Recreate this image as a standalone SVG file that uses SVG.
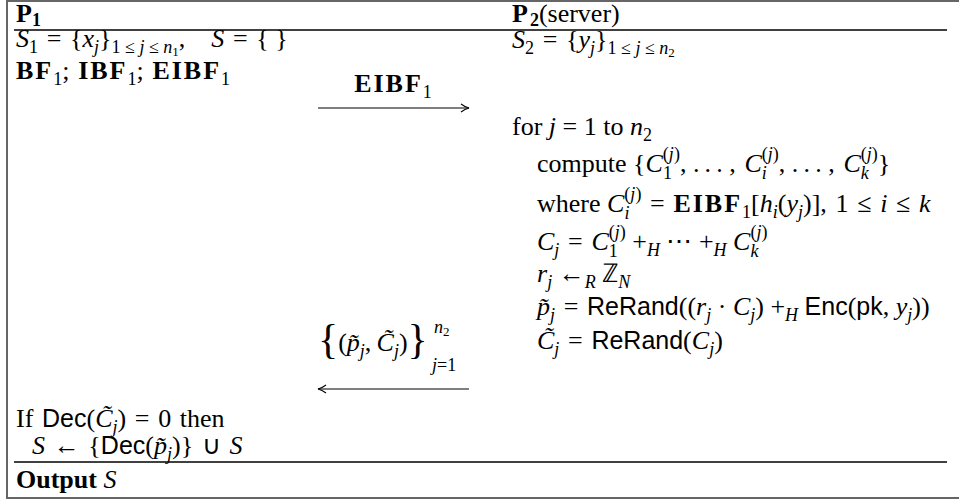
<svg xmlns="http://www.w3.org/2000/svg" width="959" height="500" viewBox="0 0 959 500">
<defs>
<style>
.t{font-family:"Liberation Serif","Times New Roman",serif;font-size:26px;fill:#000}
.i{font-style:italic}
.b{font-weight:bold}
.mb{font-weight:bold;letter-spacing:2px}
.s{font-size:18px;letter-spacing:0}
.ss{font-size:13px}
.sf{font-family:"Liberation Sans",Arial,sans-serif;font-size:25px}
.br{font-size:42px;font-weight:normal;font-style:normal}
.rule{stroke:#000;stroke-width:1.5}
.arr{stroke:#000;stroke-width:1.2;fill:none}
.frame{fill:none;stroke:#666;stroke-width:2}
</style>
<marker id="tip" viewBox="0 0 10 10" refX="9" refY="5" markerWidth="10" markerHeight="10" markerUnits="userSpaceOnUse" orient="auto-start-reverse">
<path d="M1,1 Q5,4 9,5 Q5,6 1,9" fill="none" stroke="#000" stroke-width="1.1"/>
</marker>
</defs>
<rect width="959" height="500" fill="#fff"/>
<rect class="frame" x="7" y="1" width="960" height="497"/>
<line class="rule" x1="14" y1="30" x2="947" y2="30"/>
<line class="rule" x1="14" y1="462" x2="947" y2="462"/>

<g id="p1">
<text class="t b" x="16" y="22">P<tspan class="s" dy="4">1</tspan></text>
<text class="t" x="16" y="47"><tspan class="i">S</tspan><tspan class="s" dy="6">1</tspan><tspan dy="-6">&#x2004;=&#x2004;{</tspan><tspan class="i">x</tspan><tspan class="s i" dy="6">j</tspan><tspan dy="-6">}</tspan><tspan class="s" dy="6">1&#x2005;≤&#x2005;<tspan class="i">j</tspan>&#x2005;≤&#x2005;<tspan class="i">n</tspan></tspan><tspan class="ss" dy="3">1</tspan><tspan dy="-9">,&#x2003;</tspan><tspan class="i">S</tspan>&#x2004;=&#x2004;{&#x2005;}</text>
<text class="t" x="16" y="79"><tspan class="mb">BF</tspan><tspan class="s" dy="6">1</tspan><tspan dy="-6">;&#x2004;</tspan><tspan class="mb">IBF</tspan><tspan class="s" dy="6">1</tspan><tspan dy="-6">;&#x2004;</tspan><tspan class="mb">EIBF</tspan><tspan class="s" dy="6">1</tspan></text>
<text class="t" x="16" y="427">If&#x2004;<tspan class="sf">Dec</tspan>(<tspan class="i">C̃</tspan><tspan class="s i" dy="6">j</tspan><tspan dy="-6">)&#x2004;=&#x2004;0&#x2004;then</tspan></text>
<text class="t" x="32" y="454"><tspan class="i">S</tspan>&#x2004;←&#x2004;{<tspan class="sf">Dec</tspan>(<tspan class="i">p̃</tspan><tspan class="s i" dy="6">j</tspan><tspan dy="-6">)}&#x2004;∪&#x2004;</tspan><tspan class="i">S</tspan></text>
<text class="t" x="16" y="488"><tspan class="b">Output</tspan> <tspan class="i">S</tspan></text>
</g>

<g id="p2">
<text class="t" x="512" y="22"><tspan class="mb">P</tspan><tspan class="s b" dy="4">2</tspan><tspan dy="-4">(server)</tspan></text>
<text class="t" x="512" y="48"><tspan class="i">S</tspan><tspan class="s" dy="6">2</tspan><tspan dy="-6">&#x2004;=&#x2004;{</tspan><tspan class="i">y</tspan><tspan class="s i" dy="6">j</tspan><tspan dy="-6">}</tspan><tspan class="s" dy="6">1&#x2005;≤&#x2005;<tspan class="i">j</tspan>&#x2005;≤&#x2005;<tspan class="i">n</tspan></tspan><tspan class="ss" dy="3">2</tspan></text>
<text class="t" x="512" y="135">for <tspan class="i">j</tspan> = 1 to <tspan class="i">n</tspan><tspan class="s" dy="6">2</tspan></text>
<text class="t" x="537" y="172">compute {<tspan class="i">C</tspan><tspan class="s" dy="-12">(<tspan class="i">j</tspan>)</tspan><tspan class="s" dx="-17" dy="19">1</tspan><tspan dx="8" dy="-7">,&#x2005;.&#x2009;.&#x2009;.&#x2005;,&#x2004;</tspan><tspan class="i">C</tspan><tspan class="s" dy="-12">(<tspan class="i">j</tspan>)</tspan><tspan class="s i" dx="-17" dy="19">i</tspan><tspan dx="12" dy="-7">,&#x2005;.&#x2009;.&#x2009;.&#x2005;,&#x2004;</tspan><tspan class="i">C</tspan><tspan class="s" dy="-12">(<tspan class="i">j</tspan>)</tspan><tspan class="s i" dx="-17" dy="19">k</tspan><tspan dx="9" dy="-7">}</tspan></text>
<text class="t" x="537" y="212">where <tspan class="i">C</tspan><tspan class="s" dy="-12">(<tspan class="i">j</tspan>)</tspan><tspan class="s i" dx="-17" dy="19">i</tspan><tspan dx="12" dy="-7">&#x2004;=&#x2004;</tspan><tspan class="mb">EIBF</tspan><tspan class="s" dy="6">1</tspan><tspan dy="-6">[</tspan><tspan class="i">h</tspan><tspan class="s i" dy="6">i</tspan><tspan dy="-6">(</tspan><tspan class="i">y</tspan><tspan class="s i" dy="6">j</tspan><tspan dy="-6">)],&#x2004;1&#x2004;≤&#x2004;</tspan><tspan class="i">i</tspan>&#x2004;≤&#x2004;<tspan class="i">k</tspan></text>
<text class="t" x="537" y="250"><tspan class="i">C</tspan><tspan class="s i" dy="6">j</tspan><tspan dy="-6">&#x2004;=&#x2004;</tspan><tspan class="i">C</tspan><tspan class="s" dy="-12">(<tspan class="i">j</tspan>)</tspan><tspan class="s" dx="-17" dy="19">1</tspan><tspan dx="8" dy="-7">&#x2005;+</tspan><tspan class="s i" dy="6">H</tspan><tspan dy="-6">&#x2005;⋯&#x2005;+</tspan><tspan class="s i" dy="6">H</tspan><tspan dy="-6">&#x2005;</tspan><tspan class="i">C</tspan><tspan class="s" dy="-12">(<tspan class="i">j</tspan>)</tspan><tspan class="s i" dx="-17" dy="19">k</tspan></text>
<text class="t" x="537" y="282"><tspan class="i">r</tspan><tspan class="s i" dy="6">j</tspan><tspan dy="-6"> ←</tspan><tspan class="s i" dy="6">R</tspan><tspan dy="-6"> ℤ</tspan><tspan class="s i" dy="6">N</tspan></text>
<text class="t" x="537" y="315"><tspan class="i">p̃</tspan><tspan class="s i" dy="6">j</tspan><tspan dy="-6">&#x2004;=&#x2004;</tspan><tspan class="sf">ReRand</tspan>((<tspan class="i">r</tspan><tspan class="s i" dy="6">j</tspan><tspan dy="-6">&#x2005;·&#x2005;</tspan><tspan class="i">C</tspan><tspan class="s i" dy="6">j</tspan><tspan dy="-6">)&#x2005;+</tspan><tspan class="s i" dy="6">H</tspan><tspan dy="-6">&#x2005;</tspan><tspan class="sf">Enc</tspan>(<tspan class="sf">pk</tspan>,&#x2005;<tspan class="i">y</tspan><tspan class="s i" dy="6">j</tspan><tspan dy="-6">))</tspan></text>
<text class="t" x="537" y="349"><tspan class="i">C̃</tspan><tspan class="s i" dy="6">j</tspan><tspan dy="-6">&#x2004;=&#x2004;</tspan><tspan class="sf">ReRand</tspan>(<tspan class="i">C</tspan><tspan class="s i" dy="6">j</tspan><tspan dy="-6">)</tspan></text>
</g>

<g id="connectors">
<line class="arr" x1="318" y1="108" x2="469" y2="108" marker-end="url(#tip)"/>
<text class="t" x="393" y="92" text-anchor="middle"><tspan class="mb">EIBF</tspan><tspan class="s" dy="6">1</tspan></text>
<line class="arr" x1="469" y1="389" x2="318" y2="389" marker-end="url(#tip)"/>
<text class="t" x="318" y="351"><tspan class="br" dy="2">{</tspan><tspan dy="-2">(</tspan><tspan class="i">p̃</tspan><tspan class="s i" dy="6">j</tspan><tspan dy="-6">,&#x2009;</tspan><tspan class="i">C̃</tspan><tspan class="s i" dy="6">j</tspan><tspan dy="-6">)</tspan><tspan class="br" dy="2">}</tspan></text>
<text class="t s i" x="434" y="333">n<tspan class="ss" style="font-style:normal" dy="3">2</tspan></text>
<text class="t s" x="432" y="371"><tspan class="i">j</tspan>=1</text>
</g>
</svg>
